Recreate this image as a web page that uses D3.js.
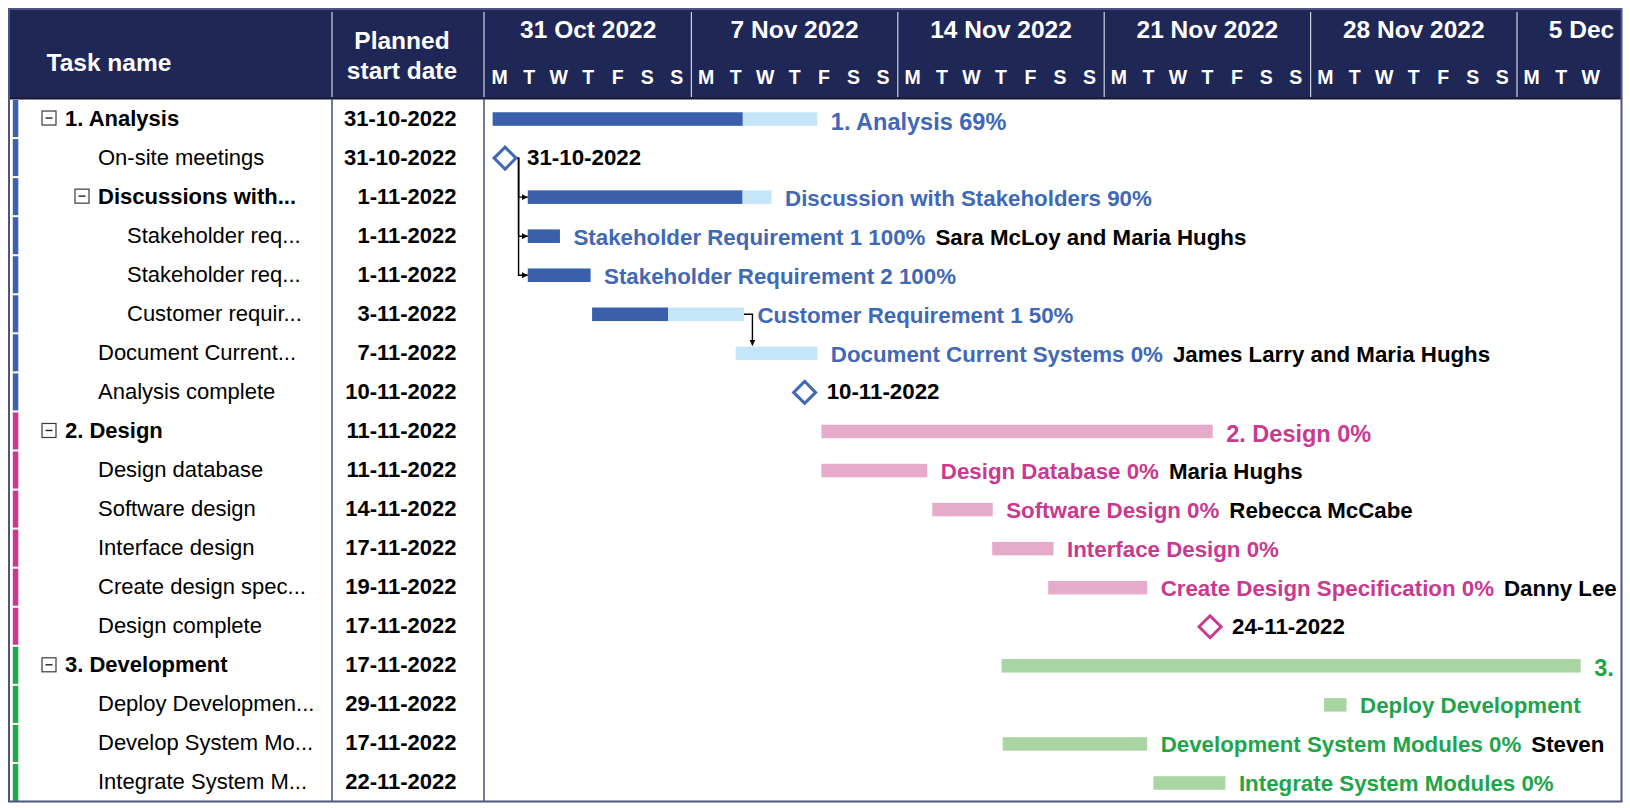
<!DOCTYPE html>
<html><head><meta charset="utf-8">
<script src="https://cdn.jsdelivr.net/npm/d3@7"></script>
<style>
html,body{margin:0;padding:0;background:#fff;}
svg{display:block;font-family:"Liberation Sans",Arial,sans-serif;}
</style>
</head><body>
<svg id="chart" width="1630" height="808"></svg>
<script>
// ---------------- DATA ----------------
const taskNames = ["1. Analysis","On-site meetings","Discussions with...","Stakeholder req...","Stakeholder req...","Customer requir...","Document Current...","Analysis complete","2. Design","Design database","Software design","Interface design","Create design spec...","Design complete","3. Development","Deploy Developmen...","Develop System Mo...","Integrate System M..."];
const taskLevels = [0,1,1,2,2,2,1,1,0,1,1,1,1,1,0,1,1,1];
const taskIsGroup = [true,false,true,false,false,false,false,false,true,false,false,false,false,false,true,false,false,false];
const plannedStart = ["31-10-2022","31-10-2022","1-11-2022","1-11-2022","1-11-2022","3-11-2022","7-11-2022","10-11-2022","11-11-2022","11-11-2022","14-11-2022","17-11-2022","19-11-2022","17-11-2022","17-11-2022","29-11-2022","17-11-2022","22-11-2022"];
const taskPhase = [0,0,0,0,0,0,0,0,1,1,1,1,1,1,2,2,2,2];
const taskType = ["bar","milestone","bar","bar","bar","bar","bar","milestone","bar","bar","bar","bar","bar","milestone","bar","bar","bar","bar"];
const taskStart = ["2022-10-31 06:15","2022-10-31 16:20","2022-11-01 10:50","2022-11-01 10:50","2022-11-01 10:50","2022-11-03 15:10","2022-11-08 12:00","2022-11-10 20:10","2022-11-11 09:50","2022-11-11 09:50","2022-11-15 04:05","2022-11-17 04:50","2022-11-19 02:25","2022-11-24 14:10","2022-11-17 12:30","2022-11-28 11:00","2022-11-17 13:25","2022-11-22 16:05"];
const taskEnd = ["2022-11-11 06:30","2022-10-31 16:20","2022-11-09 17:15","2022-11-02 13:00","2022-11-03 13:55","2022-11-08 18:45","2022-11-11 06:30","2022-11-10 20:10","2022-11-24 16:20","2022-11-15 00:00","2022-11-17 05:15","2022-11-19 06:45","2022-11-22 11:00","2022-11-24 14:10","2022-12-07 03:50","2022-11-29 05:15","2022-11-22 11:00","2022-11-25 02:40"];
const taskDone = [0.77,0,0.88,1,1,0.5,0,0,0,0,0,0,0,0,0,0,0,0];
const barLabels = ["1. Analysis 69%","31-10-2022","Discussion with Stakeholders 90%","Stakeholder Requirement 1 100%","Stakeholder Requirement 2 100%","Customer Requirement 1 50%","Document Current Systems 0%","10-11-2022","2. Design 0%","Design Database 0%","Software Design 0%","Interface Design 0%","Create Design Specification 0%","24-11-2022","3. Development 0%","Deploy Development","Development System Modules 0%","Integrate System Modules 0%"];
const resources = ["","","","Sara McLoy and Maria Hughs","","","James Larry and Maria Hughs","","","Maria Hughs","Rebecca McCabe","","Danny Lee","","","","Steven",""];
const dependencies = [[1,2],[1,3],[1,4],[5,6]];
const weekLabels = ["31 Oct 2022","7 Nov 2022","14 Nov 2022","21 Nov 2022","28 Nov 2022","5 Dec 2022"];
const dayLetters = ["M","T","W","T","F","S","S"];
const headerTask = "Task name";
const headerPlanned = ["Planned","start date"];

// ---------------- STYLE ----------------
const navy = "#1f2756";
const phaseStrip = ["#3d62ad","#c9398f","#20a84a"];
const phaseDark = ["#3a5fab","#e6aacb","#a8d5a3"];
const phaseLight = ["#c5e6f8","#e6aacb","#a8d5a3"];
const phaseText = ["#3f68b6","#c9398f","#1ea54a"];

const L = 9, R = 1621.5, T = 9, HB = 98.5, B = 801.5;
const col1 = 332, col2 = 484;
const textX = [65, 98, 127];

const svg = d3.select("#chart");
const parse = d3.timeParse("%Y-%m-%d %H:%M");
const t0 = new Date(2022, 9, 31);
const x = d3.scaleTime().domain([t0, new Date(2022, 11, 5)]).range([485, 1517]);
const y = d3.scaleBand().domain(d3.range(taskNames.length)).range([HB, B]);
const rh = y.bandwidth();
const cy = i => y(i) + rh / 2;

// drop trailing words of a text until it ends inside the chart
function fitWords(sel, maxX) {
  const node = sel.node();
  const spans = sel.selectAll("tspan").nodes();
  const target = spans.length ? spans : [node];
  let guard = 0;
  while (node.getBBox().x + node.getBBox().width > maxX && guard++ < 50) {
    const last = target[target.length - 1];
    const words = last.textContent.split(" ");
    if (words.length <= 1) {
      if (target.length > 1) { last.remove(); target.pop(); continue; }
      break;
    }
    words.pop();
    last.textContent = words.join(" ");
  }
}

const defs = svg.append("defs");
defs.append("clipPath").attr("id","chartClip").append("rect")
  .attr("x", col2).attr("y", T).attr("width", R - col2).attr("height", B - T);
defs.append("marker").attr("id","arrow").attr("viewBox","0 0 10 10")
  .attr("refX",10).attr("refY",5).attr("markerWidth",6).attr("markerHeight",6)
  .attr("markerUnits","userSpaceOnUse").attr("orient","auto")
  .append("path").attr("d","M0,0L10,5L0,10Z").attr("fill","#000");

// header background
svg.append("rect").attr("x", L).attr("y", T).attr("width", R - L).attr("height", HB - T).attr("fill", navy);

// header texts
svg.append("text").attr("x", 46.5).attr("y", 62).attr("dominant-baseline","central")
  .attr("fill","#fff").attr("font-weight","bold").attr("font-size","24.5px").text(headerTask);
headerPlanned.forEach((t, k) => {
  svg.append("text").attr("x", 402).attr("y", 40 + 30 * k).attr("dominant-baseline","central")
    .attr("text-anchor","middle").attr("fill","#fff").attr("font-weight","bold").attr("font-size","24.5px").text(t);
});
[col1, col2].forEach(cx => {
  svg.append("line").attr("x1", cx).attr("x2", cx).attr("y1", 12).attr("y2", 97)
    .attr("stroke", "#cfd3e0").attr("stroke-width", 1.2);
});

const chart = svg.append("g").attr("clip-path","url(#chartClip)");

// week headers
weekLabels.forEach((lab, i) => {
  const ws = d3.timeDay.offset(t0, 7 * i);
  const we = d3.timeDay.offset(ws, 7);
  if (i > 0) {
    chart.append("line").attr("x1", x(ws)).attr("x2", x(ws)).attr("y1", 12).attr("y2", 97)
      .attr("stroke", "#cfd3e0").attr("stroke-width", 1.2);
  }
  const wt = chart.append("text").attr("y", 29).attr("dominant-baseline","central")
    .attr("fill","#fff").attr("font-weight","bold").attr("font-size","24.5px").text(lab);
  const w = wt.node().getComputedTextLength();
  wt.attr("x", (x(ws) + x(we)) / 2 - w / 2 - (i === weekLabels.length - 1 ? 8 : 0));
  fitWords(wt, R - 3);
  dayLetters.forEach((dl, j) => {
    const dEnd = d3.timeDay.offset(ws, j + 1);
    if (x(dEnd) > R + 2) return;
    const dc = d3.timeHour.offset(ws, 24 * j + 12);
    chart.append("text").attr("x", x(dc)).attr("y", 77).attr("dominant-baseline","central")
      .attr("text-anchor","middle").attr("fill","#fff").attr("font-weight","bold").attr("font-size","19.5px").text(dl);
  });
});

svg.append("line").attr("x1", L).attr("x2", R).attr("y1", HB).attr("y2", HB).attr("stroke", "#161a30").attr("stroke-width", 2);

[col1, col2].forEach(cx => {
  svg.append("line").attr("x1", cx).attr("x2", cx).attr("y1", HB).attr("y2", B)
    .attr("stroke", "#34407a").attr("stroke-width", 1.4);
});

// left strips & table
taskNames.forEach((name, i) => {
  svg.append("rect").attr("x", 12.8).attr("y", y(i) + 1.5).attr("width", 5.5).attr("height", rh - 2)
    .attr("fill", phaseStrip[taskPhase[i]]);
  const tx = textX[taskLevels[i]];
  if (taskIsGroup[i]) {
    const bx = tx - 23;
    svg.append("rect").attr("x", bx).attr("y", cy(i) - 7).attr("width", 14).attr("height", 14)
      .attr("fill", "#fff").attr("stroke", "#3a3a3a").attr("stroke-width", 1.2);
    svg.append("line").attr("x1", bx + 3.5).attr("x2", bx + 10.5).attr("y1", cy(i)).attr("y2", cy(i))
      .attr("stroke", "#222").attr("stroke-width", 1.4);
  }
  svg.append("text").attr("x", tx).attr("y", cy(i)).attr("dominant-baseline","central")
    .attr("font-size","22px").attr("font-weight", taskIsGroup[i] ? "bold" : "normal").attr("fill","#000").text(name);
  svg.append("text").attr("x", 456.5).attr("y", cy(i)).attr("dominant-baseline","central")
    .attr("text-anchor","end").attr("font-size","22px").attr("font-weight","bold").attr("fill","#000").text(plannedStart[i]);
});

// bars & milestones
const barH = 13.5;
taskNames.forEach((_, i) => {
  const p = taskPhase[i];
  const yc = cy(i) + 1;
  const s = parse(taskStart[i]), e = parse(taskEnd[i]);
  const top = taskLevels[i] === 0;
  if (taskType[i] === "bar") {
    chart.append("rect").attr("x", x(s)).attr("y", yc - barH / 2).attr("width", x(e) - x(s)).attr("height", barH)
      .attr("fill", phaseLight[p]);
    if (taskDone[i] > 0) {
      chart.append("rect").attr("x", x(s)).attr("y", yc - barH / 2).attr("width", (x(e) - x(s)) * taskDone[i]).attr("height", barH)
        .attr("fill", phaseDark[p]);
    }
    const lab = chart.append("text").attr("x", x(e) + 13.5).attr("y", yc + (top ? 2.5 : 0.5))
      .attr("dominant-baseline","central")
      .attr("font-size", top ? "23.5px" : "22.3px").attr("font-weight","bold");
    lab.append("tspan").attr("fill", phaseText[p]).text(barLabels[i]);
    if (resources[i]) lab.append("tspan").attr("dx", 10).attr("fill", "#000").text(resources[i]);
    fitWords(lab, R - 3);
  } else {
    const mx = x(s), my = cy(i) + 1, h = 11;
    chart.append("path").attr("d", `M${mx},${my - h}L${mx + h},${my}L${mx},${my + h}L${mx - h},${my}Z`)
      .attr("fill", "#fff").attr("stroke", phaseText[p]).attr("stroke-width", 3).attr("stroke-linejoin","miter");
    chart.append("text").attr("x", mx + 22).attr("y", my - 0.5).attr("dominant-baseline","central")
      .attr("font-size","22.3px").attr("font-weight","bold").attr("fill","#000").text(barLabels[i]);
  }
});

// dependencies
dependencies.forEach(([a, b]) => {
  const sy = cy(a) + 1, ty = cy(b) + 1;
  let d;
  if (taskType[a] === "milestone") {
    const sx = x(parse(taskStart[a])) + 12.5;
    const vx = sx + 1;
    const tx = x(parse(taskStart[b]));
    d = `M${sx},${sy}H${vx}V${ty}H${tx}`;
  } else {
    const sx = x(parse(taskEnd[a]));
    const vx = sx + 8.5;
    d = `M${sx},${sy}H${vx}V${ty - barH / 2 - 1}`;
  }
  chart.append("path").attr("d", d).attr("fill","none").attr("stroke","#000").attr("stroke-width",1.4)
    .attr("marker-end","url(#arrow)");
});

// outer border
svg.append("rect").attr("x", L).attr("y", T).attr("width", R - L).attr("height", B - T)
  .attr("fill","none").attr("stroke","#4d5580").attr("stroke-width",2);
</script>
</body></html>
